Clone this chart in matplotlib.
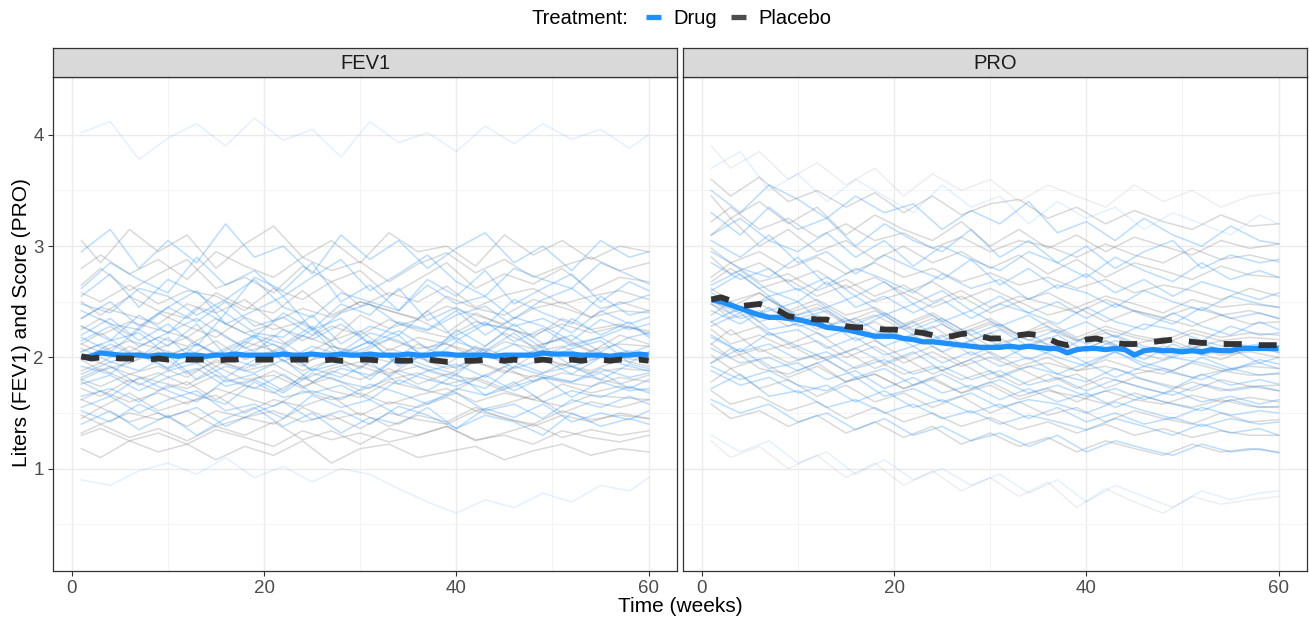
import numpy as np
import matplotlib.pyplot as plt
from matplotlib.lines import Line2D

plt.rcParams['font.family'] = ['Liberation Sans', 'DejaVu Sans']

# ---- data -------------------------------------------------------------
weeks = list(range(1, 61))
drug_weeks = [1, 4, 7, 10, 13, 16, 19, 22, 25, 28, 31, 34, 37, 40, 43, 46, 49, 52, 55, 58, 60]
plac_weeks = [1, 3, 6, 9, 12, 15, 18, 21, 24, 27, 30, 33, 36, 39, 42, 45, 48, 51, 54, 57, 60]

# group means (weekly)
fev1_drug_mean = [2.00, 2.01, 2.04, 2.03, 2.02, 2.02, 2.02, 2.01, 2.02, 2.02,
                  2.01, 2.02, 2.02, 2.01, 2.02, 2.02, 2.03, 2.02, 2.02, 2.02,
                  2.02, 2.03, 2.02, 2.02, 2.03, 2.02, 2.02, 2.03, 2.02, 2.02,
                  2.03, 2.02, 2.02, 2.02, 2.03, 2.02, 2.02, 2.03, 2.03, 2.02,
                  2.02, 2.02, 2.02, 2.01, 2.02, 2.02, 2.02, 2.02, 2.04, 2.03,
                  2.03, 2.03, 2.02, 2.02, 2.02, 2.01, 2.02, 2.02, 2.03, 2.02]
fev1_plac_mean = [2.01, 1.99, 2.00, 2.00, 1.99, 1.99, 1.98, 1.98, 1.99, 1.98,
                  1.99, 1.98, 1.98, 1.98, 1.97, 1.98, 1.98, 1.99, 1.98, 1.98,
                  1.98, 1.97, 1.98, 1.98, 1.98, 1.97, 1.98, 1.97, 1.97, 1.98,
                  1.98, 1.97, 1.98, 1.97, 1.97, 1.98, 1.98, 1.97, 1.96, 1.96,
                  1.97, 1.97, 1.98, 1.98, 1.97, 1.98, 1.97, 1.97, 1.98, 1.97,
                  1.97, 1.98, 1.97, 1.98, 1.98, 1.97, 1.98, 1.97, 1.98, 1.97]
pro_drug_mean = [2.52, 2.50, 2.47, 2.44, 2.41, 2.38, 2.36, 2.36, 2.35, 2.34,
                 2.32, 2.30, 2.27, 2.26, 2.25, 2.23, 2.21, 2.19, 2.19, 2.19,
                 2.17, 2.16, 2.14, 2.14, 2.13, 2.12, 2.11, 2.10, 2.09, 2.09,
                 2.09, 2.10, 2.09, 2.10, 2.09, 2.08, 2.08, 2.04, 2.07, 2.08,
                 2.08, 2.07, 2.08, 2.07, 2.02, 2.06, 2.07, 2.06, 2.06, 2.05,
                 2.06, 2.05, 2.07, 2.06, 2.06, 2.08, 2.08, 2.08, 2.08, 2.08]
pro_plac_mean = [2.52, 2.54, 2.51, 2.46, 2.47, 2.48, 2.45, 2.42, 2.37, 2.36,
                 2.35, 2.34, 2.34, 2.31, 2.28, 2.27, 2.27, 2.26, 2.25, 2.25,
                 2.24, 2.23, 2.22, 2.20, 2.18, 2.19, 2.21, 2.22, 2.19, 2.17,
                 2.17, 2.18, 2.20, 2.21, 2.20, 2.17, 2.13, 2.11, 2.14, 2.16,
                 2.17, 2.15, 2.13, 2.12, 2.12, 2.13, 2.14, 2.15, 2.16, 2.15,
                 2.14, 2.13, 2.13, 2.12, 2.12, 2.12, 2.12, 2.11, 2.11, 2.11]

# individual subjects (values read at a coarser time grid)
fev1_drug_subj = [
    [4.02, 4.12, 3.78, 3.97, 4.10, 3.90, 4.15, 3.95, 4.05, 3.80, 4.12, 3.93, 4.02, 3.85, 4.08, 3.92, 4.10, 3.96, 4.05, 3.88, 4.00],
    [2.95, 3.15, 2.80, 3.05, 2.85, 3.20, 2.90, 3.00, 2.75, 3.10, 2.88, 3.05, 2.80, 2.98, 3.12, 2.85, 3.00, 2.78, 3.05, 2.90, 2.95],
    [2.62, 2.85, 2.70, 2.58, 2.90, 2.65, 2.78, 2.55, 2.72, 2.88, 2.60, 2.75, 2.92, 2.68, 2.55, 2.80, 2.70, 2.62, 2.85, 2.74, 2.66],
    [2.55, 2.75, 2.45, 2.70, 2.58, 2.40, 2.72, 2.60, 2.85, 2.50, 2.65, 2.42, 2.70, 2.55, 2.78, 2.48, 2.62, 2.75, 2.50, 2.68, 2.60],
    [2.48, 2.40, 2.62, 2.55, 2.38, 2.52, 2.70, 2.45, 2.36, 2.58, 2.50, 2.42, 2.65, 2.48, 2.55, 2.35, 2.52, 2.62, 2.44, 2.50, 2.56],
    [2.35, 2.50, 2.28, 2.45, 2.60, 2.30, 2.42, 2.55, 2.25, 2.48, 2.38, 2.62, 2.33, 2.45, 2.28, 2.52, 2.40, 2.30, 2.55, 2.38, 2.42],
    [2.42, 2.30, 2.25, 2.45, 2.32, 2.50, 2.28, 2.36, 2.20, 2.40, 2.48, 2.30, 2.24, 2.38, 2.46, 2.28, 2.35, 2.22, 2.42, 2.30, 2.36],
    [2.28, 2.15, 2.38, 2.22, 2.45, 2.30, 2.18, 2.40, 2.25, 2.35, 2.12, 2.32, 2.25, 2.42, 2.20, 2.36, 2.28, 2.15, 2.34, 2.25, 2.30],
    [2.20, 2.35, 2.15, 2.30, 2.10, 2.40, 2.22, 2.18, 2.38, 2.12, 2.28, 2.20, 2.42, 2.15, 2.30, 2.25, 2.08, 2.35, 2.20, 2.32, 2.18],
    [2.15, 2.28, 2.10, 2.22, 2.35, 2.18, 2.05, 2.25, 2.16, 2.30, 2.12, 2.24, 2.08, 2.20, 2.32, 2.14, 2.26, 2.10, 2.18, 2.28, 2.20],
    [2.18, 2.05, 2.25, 2.10, 2.30, 2.02, 2.20, 2.12, 2.28, 2.05, 2.22, 2.15, 2.00, 2.25, 2.10, 2.30, 2.12, 2.20, 2.05, 2.18, 2.22],
    [2.05, 2.15, 2.22, 2.02, 2.12, 1.98, 2.18, 2.08, 2.25, 2.00, 2.10, 2.20, 1.96, 2.14, 2.06, 2.22, 2.02, 2.12, 2.18, 2.04, 2.10],
    [1.98, 2.12, 2.00, 2.18, 1.95, 2.08, 2.20, 1.96, 2.10, 2.02, 2.15, 1.92, 2.05, 2.18, 2.00, 2.12, 1.98, 2.08, 2.15, 1.95, 2.05],
    [2.08, 1.96, 2.02, 1.90, 2.12, 2.00, 1.92, 2.06, 1.88, 2.04, 2.14, 1.94, 2.02, 1.90, 2.08, 1.98, 2.10, 1.92, 2.00, 2.06, 1.98],
    [1.92, 1.85, 2.05, 1.90, 2.00, 1.82, 1.98, 2.08, 1.88, 1.95, 1.80, 2.02, 1.92, 1.85, 2.05, 1.90, 1.98, 1.85, 2.00, 1.92, 1.88],
    [1.85, 1.96, 1.88, 2.02, 1.80, 1.92, 1.86, 1.98, 1.78, 1.90, 1.84, 2.00, 1.88, 1.94, 1.82, 1.96, 1.86, 1.92, 1.80, 1.94, 1.90],
    [1.80, 1.92, 1.75, 1.88, 1.95, 1.78, 1.85, 1.70, 1.90, 1.82, 1.96, 1.76, 1.88, 1.80, 1.72, 1.92, 1.84, 1.78, 1.90, 1.82, 1.86],
    [1.76, 1.84, 1.70, 1.82, 1.90, 1.74, 1.80, 1.68, 1.86, 1.78, 1.72, 1.88, 1.80, 1.74, 1.84, 1.70, 1.82, 1.78, 1.86, 1.72, 1.80],
    [1.78, 1.65, 1.82, 1.70, 1.60, 1.80, 1.72, 1.85, 1.68, 1.75, 1.62, 1.80, 1.70, 1.85, 1.66, 1.74, 1.82, 1.64, 1.78, 1.70, 1.72],
    [1.65, 1.72, 1.60, 1.75, 1.66, 1.58, 1.78, 1.64, 1.70, 1.62, 1.76, 1.68, 1.58, 1.72, 1.66, 1.78, 1.60, 1.70, 1.64, 1.74, 1.68],
    [1.55, 1.65, 1.50, 1.62, 1.70, 1.52, 1.58, 1.45, 1.66, 1.55, 1.62, 1.48, 1.60, 1.68, 1.52, 1.58, 1.45, 1.62, 1.55, 1.65, 1.58],
    [1.52, 1.42, 1.58, 1.46, 1.55, 1.38, 1.50, 1.60, 1.44, 1.52, 1.40, 1.56, 1.48, 1.36, 1.54, 1.46, 1.58, 1.42, 1.50, 1.44, 1.52],
    [1.40, 1.52, 1.35, 1.48, 1.30, 1.45, 1.55, 1.38, 1.50, 1.32, 1.46, 1.40, 1.55, 1.36, 1.48, 1.42, 1.30, 1.50, 1.38, 1.45, 1.40],
    [0.90, 0.85, 0.98, 1.05, 0.95, 1.10, 0.92, 1.02, 0.88, 1.00, 0.95, 0.82, 0.70, 0.60, 0.72, 0.65, 0.78, 0.70, 0.85, 0.80, 0.92],
]
fev1_plac_subj = [
    [3.05, 2.85, 3.15, 2.95, 3.10, 2.80, 3.02, 3.18, 2.90, 3.05, 2.85, 3.12, 2.95, 3.00, 2.82, 3.10, 2.92, 3.05, 2.88, 3.00, 2.95],
    [2.80, 2.92, 2.75, 2.88, 2.70, 2.95, 2.82, 2.72, 2.90, 2.78, 2.86, 2.68, 2.84, 2.94, 2.76, 2.88, 2.72, 2.82, 2.90, 2.78, 2.85],
    [2.65, 2.80, 2.60, 2.75, 2.88, 2.62, 2.72, 2.58, 2.82, 2.68, 2.78, 2.55, 2.70, 2.85, 2.62, 2.75, 2.66, 2.80, 2.60, 2.72, 2.68],
    [2.58, 2.50, 2.65, 2.48, 2.60, 2.55, 2.42, 2.62, 2.52, 2.68, 2.46, 2.58, 2.50, 2.64, 2.45, 2.56, 2.62, 2.48, 2.55, 2.60, 2.52],
    [2.50, 2.38, 2.55, 2.42, 2.35, 2.58, 2.45, 2.40, 2.60, 2.38, 2.50, 2.42, 2.35, 2.55, 2.44, 2.38, 2.52, 2.45, 2.36, 2.50, 2.42],
    [2.35, 2.45, 2.38, 2.30, 2.48, 2.40, 2.52, 2.32, 2.44, 2.36, 2.50, 2.42, 2.34, 2.46, 2.38, 2.30, 2.44, 2.50, 2.36, 2.42, 2.40],
    [2.25, 2.35, 2.20, 2.40, 2.28, 2.18, 2.36, 2.25, 2.32, 2.15, 2.38, 2.26, 2.34, 2.22, 2.40, 2.28, 2.18, 2.35, 2.25, 2.30, 2.22],
    [2.28, 2.20, 2.32, 2.25, 2.18, 2.35, 2.22, 2.30, 2.15, 2.28, 2.20, 2.34, 2.24, 2.18, 2.32, 2.26, 2.20, 2.30, 2.22, 2.28, 2.24],
    [2.12, 2.22, 2.05, 2.18, 2.10, 2.25, 2.08, 2.20, 2.02, 2.15, 2.24, 2.06, 2.18, 2.12, 2.04, 2.22, 2.10, 2.16, 2.05, 2.20, 2.12],
    [2.12, 2.05, 2.15, 2.08, 2.18, 2.02, 2.14, 2.06, 2.20, 2.10, 2.04, 2.16, 2.08, 2.12, 2.00, 2.14, 2.08, 2.18, 2.06, 2.12, 2.10],
    [2.05, 2.12, 1.95, 2.08, 2.00, 2.15, 1.98, 2.06, 1.92, 2.10, 2.02, 1.96, 2.12, 2.00, 2.08, 1.94, 2.05, 2.10, 1.98, 2.04, 2.00],
    [2.00, 1.95, 2.10, 1.98, 2.08, 1.92, 2.05, 2.12, 1.96, 2.02, 1.90, 2.08, 2.00, 1.94, 2.10, 1.98, 2.04, 1.92, 2.06, 2.00, 1.96],
    [1.98, 1.88, 1.95, 2.05, 1.85, 1.96, 1.90, 2.02, 1.88, 1.98, 1.92, 1.84, 2.00, 1.90, 1.96, 1.86, 2.02, 1.94, 1.88, 1.98, 1.92],
    [1.88, 1.95, 1.85, 1.92, 1.82, 1.98, 1.88, 1.94, 1.80, 1.90, 1.96, 1.86, 1.92, 1.84, 1.96, 1.88, 1.82, 1.94, 1.86, 1.90, 1.88],
    [1.82, 1.90, 1.78, 1.86, 1.75, 1.92, 1.80, 1.84, 1.72, 1.88, 1.80, 1.90, 1.76, 1.85, 1.80, 1.92, 1.78, 1.86, 1.82, 1.76, 1.84],
    [1.80, 1.74, 1.85, 1.78, 1.72, 1.84, 1.76, 1.88, 1.74, 1.82, 1.70, 1.80, 1.86, 1.76, 1.82, 1.72, 1.84, 1.78, 1.74, 1.82, 1.78],
    [1.72, 1.65, 1.80, 1.70, 1.78, 1.62, 1.75, 1.68, 1.82, 1.70, 1.64, 1.78, 1.72, 1.66, 1.80, 1.70, 1.62, 1.76, 1.68, 1.74, 1.70],
    [1.62, 1.70, 1.60, 1.68, 1.58, 1.72, 1.64, 1.56, 1.70, 1.62, 1.68, 1.58, 1.66, 1.72, 1.60, 1.68, 1.62, 1.56, 1.66, 1.64, 1.62],
    [1.62, 1.55, 1.68, 1.52, 1.60, 1.66, 1.50, 1.62, 1.56, 1.65, 1.48, 1.60, 1.55, 1.64, 1.52, 1.58, 1.66, 1.50, 1.60, 1.55, 1.62],
    [1.45, 1.55, 1.42, 1.50, 1.38, 1.52, 1.46, 1.40, 1.55, 1.44, 1.50, 1.38, 1.48, 1.42, 1.55, 1.45, 1.40, 1.52, 1.44, 1.48, 1.45],
    [1.48, 1.40, 1.50, 1.44, 1.52, 1.38, 1.46, 1.52, 1.42, 1.48, 1.36, 1.50, 1.44, 1.40, 1.52, 1.46, 1.38, 1.48, 1.42, 1.50, 1.45],
    [1.32, 1.40, 1.28, 1.36, 1.25, 1.38, 1.30, 1.42, 1.26, 1.34, 1.22, 1.36, 1.30, 1.38, 1.25, 1.32, 1.40, 1.28, 1.35, 1.30, 1.34],
    [1.30, 1.36, 1.25, 1.32, 1.22, 1.35, 1.28, 1.20, 1.34, 1.26, 1.32, 1.24, 1.30, 1.38, 1.26, 1.30, 1.22, 1.34, 1.28, 1.24, 1.30],
    [1.18, 1.10, 1.25, 1.15, 1.22, 1.08, 1.20, 1.12, 1.25, 1.05, 1.18, 1.22, 1.10, 1.15, 1.20, 1.08, 1.16, 1.22, 1.12, 1.18, 1.15],
]
pro_drug_subj = [
    [3.70, 3.85, 3.50, 3.65, 3.40, 3.60, 3.45, 3.30, 3.55, 3.35, 3.45, 3.20, 3.40, 3.25, 3.35, 3.15, 3.30, 3.20, 3.10, 3.28, 3.20],
    [3.50, 3.30, 3.55, 3.42, 3.25, 3.45, 3.30, 3.38, 3.15, 3.32, 3.20, 3.40, 3.12, 3.22, 3.05, 3.25, 3.10, 3.00, 3.18, 3.05, 3.02],
    [3.30, 3.10, 3.35, 3.15, 3.25, 3.00, 3.20, 3.05, 2.95, 3.15, 2.90, 3.05, 2.85, 3.00, 2.80, 2.95, 3.05, 2.80, 2.92, 2.85, 2.88],
    [3.10, 3.25, 3.05, 2.95, 3.12, 2.90, 3.05, 2.82, 3.00, 2.88, 2.78, 2.95, 2.85, 2.72, 2.90, 2.78, 2.68, 2.85, 2.70, 2.78, 2.72],
    [3.05, 2.90, 3.10, 2.85, 2.95, 2.75, 2.92, 2.80, 2.70, 2.88, 2.65, 2.80, 2.62, 2.75, 2.58, 2.70, 2.55, 2.68, 2.60, 2.52, 2.58],
    [2.95, 2.80, 2.72, 2.90, 2.65, 2.80, 2.70, 2.58, 2.75, 2.62, 2.70, 2.52, 2.65, 2.58, 2.45, 2.60, 2.50, 2.42, 2.55, 2.48, 2.45],
    [2.85, 2.70, 2.80, 2.60, 2.72, 2.55, 2.68, 2.48, 2.60, 2.42, 2.55, 2.40, 2.50, 2.35, 2.48, 2.38, 2.30, 2.45, 2.35, 2.40, 2.35],
    [2.65, 2.78, 2.60, 2.50, 2.68, 2.45, 2.55, 2.40, 2.52, 2.35, 2.48, 2.40, 2.30, 2.45, 2.32, 2.25, 2.40, 2.28, 2.20, 2.32, 2.25],
    [2.60, 2.75, 2.55, 2.62, 2.45, 2.55, 2.38, 2.48, 2.32, 2.42, 2.28, 2.38, 2.22, 2.32, 2.18, 2.30, 2.25, 2.15, 2.28, 2.20, 2.22],
    [2.58, 2.45, 2.52, 2.38, 2.45, 2.30, 2.40, 2.25, 2.35, 2.20, 2.30, 2.15, 2.25, 2.12, 2.20, 2.10, 2.05, 2.15, 2.08, 2.12, 2.10],
    [2.50, 2.40, 2.55, 2.35, 2.42, 2.25, 2.38, 2.20, 2.30, 2.15, 2.25, 2.10, 2.20, 2.05, 2.15, 2.08, 2.00, 2.12, 2.05, 2.10, 2.04],
    [2.48, 2.35, 2.42, 2.50, 2.28, 2.35, 2.20, 2.32, 2.15, 2.25, 2.10, 2.22, 2.05, 2.18, 2.10, 1.98, 2.12, 2.02, 2.08, 1.95, 2.00],
    [2.42, 2.30, 2.45, 2.28, 2.32, 2.15, 2.25, 2.10, 2.20, 2.02, 2.12, 1.98, 2.08, 1.95, 2.05, 1.92, 2.00, 1.95, 1.88, 1.98, 1.94],
    [2.32, 2.45, 2.25, 2.30, 2.18, 2.28, 2.10, 2.20, 2.05, 2.15, 1.98, 2.10, 2.00, 1.92, 2.05, 1.95, 1.88, 2.00, 1.90, 1.95, 1.90],
    [2.28, 2.40, 2.20, 2.25, 2.08, 2.18, 2.02, 2.10, 1.95, 2.05, 1.92, 2.00, 1.85, 1.95, 1.82, 1.92, 1.86, 1.80, 1.90, 1.84, 1.86],
    [2.20, 2.05, 2.12, 1.98, 2.05, 1.90, 1.98, 1.85, 1.92, 1.80, 1.88, 1.75, 1.82, 1.70, 1.80, 1.72, 1.66, 1.76, 1.70, 1.74, 1.70],
    [2.18, 2.05, 2.22, 2.10, 1.98, 2.08, 1.95, 2.05, 1.88, 1.98, 1.82, 1.92, 1.85, 1.78, 1.90, 1.80, 1.72, 1.85, 1.75, 1.80, 1.76],
    [2.08, 1.95, 2.00, 1.88, 1.98, 1.82, 1.90, 1.75, 1.85, 1.72, 1.80, 1.68, 1.75, 1.65, 1.72, 1.62, 1.70, 1.60, 1.65, 1.58, 1.62],
    [1.95, 2.08, 1.90, 1.95, 1.80, 1.88, 1.72, 1.82, 1.68, 1.75, 1.62, 1.72, 1.60, 1.68, 1.55, 1.65, 1.58, 1.52, 1.62, 1.55, 1.56],
    [1.92, 1.80, 1.88, 1.75, 1.70, 1.82, 1.65, 1.72, 1.60, 1.68, 1.55, 1.62, 1.58, 1.50, 1.60, 1.52, 1.45, 1.55, 1.48, 1.52, 1.50],
    [1.88, 1.75, 1.82, 1.68, 1.75, 1.60, 1.70, 1.55, 1.62, 1.50, 1.58, 1.45, 1.55, 1.42, 1.50, 1.40, 1.46, 1.38, 1.45, 1.40, 1.42],
    [1.72, 1.85, 1.65, 1.70, 1.55, 1.62, 1.50, 1.58, 1.45, 1.52, 1.40, 1.48, 1.42, 1.35, 1.45, 1.38, 1.30, 1.40, 1.32, 1.36, 1.30],
    [1.62, 1.50, 1.58, 1.42, 1.50, 1.35, 1.45, 1.30, 1.38, 1.25, 1.32, 1.20, 1.30, 1.15, 1.25, 1.18, 1.12, 1.22, 1.15, 1.18, 1.14],
    [1.30, 1.15, 1.25, 1.05, 1.15, 0.95, 1.08, 0.90, 1.00, 0.85, 0.95, 0.78, 0.90, 0.70, 0.85, 0.75, 0.65, 0.80, 0.72, 0.78, 0.80],
]
pro_plac_subj = [
    [3.90, 3.70, 3.85, 3.60, 3.75, 3.55, 3.70, 3.45, 3.65, 3.50, 3.60, 3.40, 3.55, 3.45, 3.35, 3.55, 3.40, 3.50, 3.35, 3.45, 3.48],
    [3.60, 3.45, 3.62, 3.40, 3.50, 3.35, 3.48, 3.30, 3.45, 3.28, 3.38, 3.42, 3.25, 3.35, 3.20, 3.32, 3.22, 3.15, 3.28, 3.18, 3.20],
    [3.45, 3.25, 3.40, 3.20, 3.35, 3.10, 3.28, 3.15, 3.05, 3.22, 3.00, 3.15, 2.98, 3.10, 2.95, 3.08, 3.00, 2.92, 3.05, 2.98, 3.02],
    [3.22, 3.35, 3.15, 3.25, 3.08, 3.20, 3.05, 3.12, 2.98, 3.08, 2.95, 3.05, 3.00, 2.90, 3.02, 2.92, 2.85, 2.98, 2.88, 2.92, 2.86],
    [3.10, 3.25, 3.00, 3.15, 2.95, 3.05, 2.88, 3.00, 2.85, 2.95, 2.80, 2.92, 2.75, 2.88, 2.72, 2.85, 2.78, 2.70, 2.82, 2.74, 2.72],
    [2.98, 2.85, 2.95, 2.80, 2.90, 2.75, 2.85, 2.72, 2.80, 2.68, 2.76, 2.65, 2.72, 2.62, 2.70, 2.58, 2.65, 2.60, 2.52, 2.62, 2.55],
    [2.90, 2.75, 2.85, 2.68, 2.78, 2.62, 2.72, 2.58, 2.68, 2.52, 2.62, 2.50, 2.58, 2.45, 2.55, 2.48, 2.40, 2.52, 2.45, 2.48, 2.45],
    [2.72, 2.85, 2.68, 2.75, 2.60, 2.70, 2.55, 2.65, 2.50, 2.60, 2.45, 2.55, 2.48, 2.40, 2.52, 2.42, 2.36, 2.45, 2.38, 2.42, 2.35],
    [2.68, 2.80, 2.62, 2.70, 2.55, 2.65, 2.50, 2.58, 2.45, 2.55, 2.40, 2.50, 2.38, 2.45, 2.32, 2.42, 2.35, 2.28, 2.38, 2.30, 2.32],
    [2.62, 2.50, 2.58, 2.42, 2.52, 2.38, 2.45, 2.30, 2.40, 2.25, 2.35, 2.20, 2.32, 2.18, 2.28, 2.20, 2.15, 2.25, 2.18, 2.22, 2.20],
    [2.55, 2.45, 2.58, 2.40, 2.48, 2.32, 2.42, 2.28, 2.38, 2.22, 2.32, 2.20, 2.28, 2.15, 2.25, 2.18, 2.12, 2.22, 2.15, 2.18, 2.16],
    [2.52, 2.40, 2.48, 2.35, 2.45, 2.30, 2.38, 2.25, 2.35, 2.20, 2.30, 2.18, 2.25, 2.15, 2.22, 2.12, 2.18, 2.08, 2.15, 2.10, 2.10],
    [2.48, 2.35, 2.42, 2.28, 2.38, 2.22, 2.32, 2.18, 2.28, 2.12, 2.22, 2.08, 2.18, 2.05, 2.15, 2.02, 2.10, 2.05, 1.98, 2.08, 2.05],
    [2.38, 2.50, 2.32, 2.40, 2.25, 2.35, 2.20, 2.28, 2.15, 2.25, 2.10, 2.18, 2.12, 2.05, 2.15, 2.05, 1.98, 2.10, 2.02, 2.05, 2.00],
    [2.32, 2.20, 2.28, 2.12, 2.22, 2.05, 2.15, 2.00, 2.10, 1.95, 2.05, 1.92, 2.00, 1.88, 1.98, 1.90, 1.85, 1.95, 1.88, 1.92, 1.90],
    [2.25, 2.12, 2.20, 2.08, 2.15, 2.00, 2.10, 1.95, 2.05, 1.92, 2.00, 1.90, 1.95, 1.88, 1.92, 1.85, 1.90, 1.82, 1.88, 1.84, 1.85],
    [2.12, 2.25, 2.05, 2.12, 1.98, 2.05, 1.90, 2.00, 1.85, 1.95, 1.80, 1.90, 1.78, 1.85, 1.72, 1.82, 1.76, 1.70, 1.80, 1.74, 1.75],
    [2.12, 2.00, 2.08, 1.95, 2.02, 1.88, 1.98, 1.85, 1.92, 1.80, 1.88, 1.75, 1.85, 1.72, 1.82, 1.75, 1.68, 1.78, 1.70, 1.74, 1.70],
    [2.02, 1.90, 1.98, 1.82, 1.92, 1.78, 1.85, 1.72, 1.82, 1.68, 1.78, 1.65, 1.72, 1.60, 1.70, 1.62, 1.58, 1.66, 1.60, 1.64, 1.60],
    [1.95, 2.08, 1.90, 1.85, 1.95, 1.78, 1.85, 1.72, 1.80, 1.68, 1.75, 1.62, 1.70, 1.65, 1.58, 1.68, 1.60, 1.55, 1.62, 1.56, 1.55],
    [1.78, 1.90, 1.72, 1.80, 1.65, 1.75, 1.60, 1.68, 1.55, 1.65, 1.50, 1.60, 1.48, 1.55, 1.42, 1.52, 1.45, 1.40, 1.50, 1.42, 1.44],
    [1.70, 1.58, 1.65, 1.52, 1.60, 1.45, 1.55, 1.42, 1.50, 1.38, 1.46, 1.35, 1.42, 1.32, 1.40, 1.30, 1.36, 1.28, 1.34, 1.30, 1.30],
    [1.58, 1.45, 1.52, 1.38, 1.48, 1.32, 1.42, 1.28, 1.38, 1.22, 1.32, 1.20, 1.28, 1.15, 1.25, 1.18, 1.12, 1.22, 1.15, 1.18, 1.15],
    [1.25, 1.10, 1.20, 1.00, 1.12, 0.92, 1.05, 0.85, 0.98, 0.80, 0.92, 0.75, 0.88, 0.65, 0.82, 0.70, 0.60, 0.75, 0.68, 0.72, 0.75],
]

panels = ['FEV1', 'PRO']
drug_col = '#1E90FF'
plac_col = '#333333'

# ---- figure -----------------------------------------------------------
W, H = 1309, 619
fig = plt.figure(figsize=(W / 100, H / 100), dpi=100)


def box(x0, top, w, h):
    return [x0 / W, 1 - (top + h) / H, w / W, h / H]


data = {
    'FEV1': (fev1_drug_subj, fev1_plac_subj, fev1_drug_mean, fev1_plac_mean),
    'PRO': (pro_drug_subj, pro_plac_subj, pro_drug_mean, pro_plac_mean),
}

lefts = [53, 683]
for i, name in enumerate(panels):
    ax = fig.add_axes(box(lefts[i], 77, 624, 494))
    strip = fig.add_axes(box(lefts[i], 48, 624, 29))
    strip.set_facecolor('#D9D9D9')
    strip.set_xticks([])
    strip.set_yticks([])
    for s in strip.spines.values():
        s.set_color('#333333')
        s.set_linewidth(0.9)
    strip.text(0.5, 0.45, name, ha='center', va='center', fontsize=14.5, color='#1A1A1A')

    drug_s, plac_s, drug_m, plac_m = data[name]
    for row in plac_s:
        a = 0.12 if (min(row) < 1.0 or max(row) > 3.7) else 0.28
        ax.plot(plac_weeks, row, color='#7A7A7A', alpha=a, lw=1.1, zorder=2)
    for row in drug_s:
        a = 0.12 if (min(row) < 1.0 or max(row) > 3.7) else 0.3
        ax.plot(drug_weeks, row, color=drug_col, alpha=a, lw=1.1, zorder=2)

    ax.plot(weeks, drug_m, color=drug_col, lw=3.8, zorder=4, solid_capstyle='butt')
    ax.plot(weeks, plac_m, color=plac_col, lw=4.2, zorder=5,
            linestyle=(0, (3.1, 2.9)), dash_capstyle='butt')

    ax.set_xlim(-1.95, 62.95)
    ax.set_ylim(0.08, 4.52)
    ax.set_xticks([0, 20, 40, 60])
    ax.set_xticks([10, 30, 50], minor=True)
    ax.set_yticks([1, 2, 3, 4])
    ax.set_yticks([0.5, 1.5, 2.5, 3.5], minor=True)
    ax.grid(True, which='major', color='#EBEBEB', lw=1.0, zorder=0)
    ax.grid(True, which='minor', color='#F3F3F3', lw=0.6, zorder=0)
    ax.set_axisbelow(True)
    ax.tick_params(which='major', length=3.5, width=0.8, color='#333333',
                   labelsize=13.5, labelcolor='#4D4D4D', pad=3)
    ax.tick_params(which='minor', length=0)
    if i == 1:
        ax.tick_params(axis='y', labelleft=False, length=0)
    for s in ax.spines.values():
        s.set_color('#333333')
        s.set_linewidth(0.9)

fig.text(22 / W, 1 - 323 / H, 'Liters (FEV1) and Score (PRO)', rotation=90,
         ha='center', va='center', fontsize=15, color='#000000')
fig.text(680 / W, 1 - 606 / H, 'Time (weeks)', ha='center', va='center',
         fontsize=15, color='#000000')

# legend on top
fig.text(532 / W, 1 - 19 / H, 'Treatment:', ha='left', va='center', fontsize=14.5)
handles = [Line2D([], [], color=drug_col, lw=3.8, solid_capstyle='butt'),
           Line2D([], [], color='#4D4D4D', lw=3.8, solid_capstyle='butt')]
fig.legend(handles, ['Drug', 'Placebo'], ncol=2, loc='center left',
           bbox_to_anchor=(646 / W, 1 - 19 / H), frameon=False, fontsize=14.5,
           handlelength=0.75, handletextpad=0.6, columnspacing=0.7,
           borderaxespad=0, borderpad=0)

fig.savefig('out.png', dpi=100)
